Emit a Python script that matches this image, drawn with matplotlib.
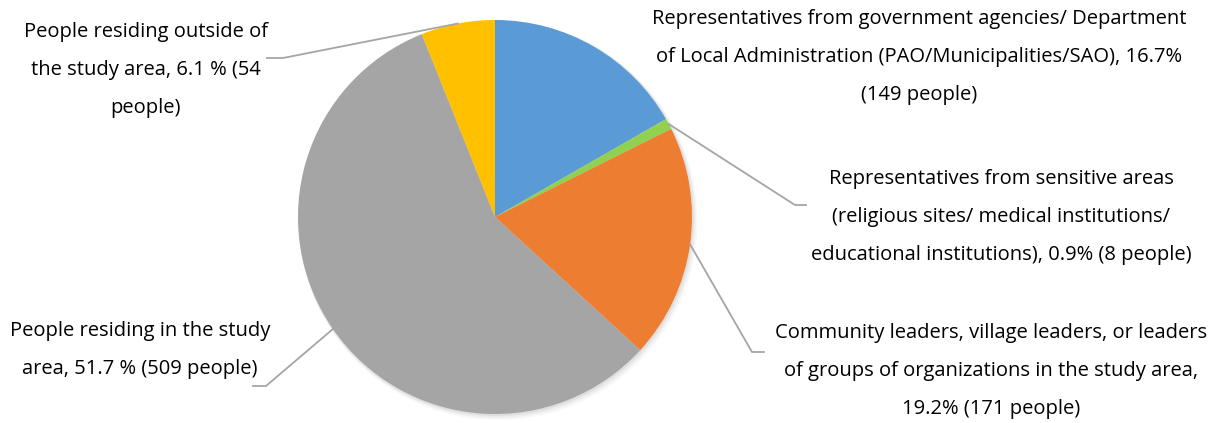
import numpy as np
import matplotlib
matplotlib.use("Agg")
import matplotlib.pyplot as plt
from matplotlib.patches import Circle

# データ (人数)
groups = ["government", "sensitive", "community", "inside", "outside"]
counts = [149, 8, 171, 509, 54]
colors = ["#5B9BD5", "#92D050", "#ED7D31", "#A5A5A5", "#FFC000"]
labels = [
    "Representatives from government agencies/ Department\n"
    "of Local Administration (PAO/Municipalities/SAO), 16.7%\n(149 people)",
    "Representatives from sensitive areas\n(religious sites/ medical institutions/\n"
    "educational institutions), 0.9% (8 people)",
    "Community leaders, village leaders, or leaders\n"
    "of groups of organizations in the study area,\n19.2% (171 people)",
    "People residing in the study\narea, 51.7 % (509 people)",
    "People residing outside of\nthe study area, 6.1 % (54\npeople)",
]

W, H = 1222, 423
fig = plt.figure(figsize=(W / 100, H / 100), dpi=100)
ax = fig.add_axes([0, 0, 1, 1])

cx, cy, r = 495, 206, 197

# うっすら影
for k, a in [(6, 0.03), (4, 0.04), (2, 0.06)]:
    ax.add_patch(Circle((cx + k * 0.5, cy - k * 0.6), r + k * 0.4,
                        color="black", alpha=a, linewidth=0, zorder=0))

wedges, _ = ax.pie(counts, colors=colors, startangle=90, counterclock=False,
                   center=(cx, cy), radius=r, frame=True,
                   wedgeprops=dict(linewidth=0, zorder=1))
ax.set_xlim(0, W)
ax.set_ylim(0, H)
ax.set_aspect("equal")
ax.axis("off")

# ラベル位置 (テキスト中心, 折れ点, 線の端)
layout = [
    dict(text=(919, 366), elbow=None, end=None),
    dict(text=(1001, 206), elbow=(795, 218), end=(806, 218)),
    dict(text=(991, 52), elbow=(752, 71), end=(764, 71)),
    dict(text=(140, 73), elbow=(266, 37), end=(253, 37)),
    dict(text=(146, 353), elbow=(283, 365), end=(267, 365)),
]

for w, lab, lay in zip(wedges, labels, layout):
    ax.text(lay["text"][0], lay["text"][1], lab, ha="center", va="center",
            fontsize=14.5, family="Open Sans", linespacing=2.18, color="black")
    if lay["elbow"] is not None:
        ang = np.deg2rad((w.theta1 + w.theta2) / 2)
        px, py = cx + r * np.cos(ang), cy + r * np.sin(ang)
        ax.plot([px, lay["elbow"][0], lay["end"][0]],
                [py, lay["elbow"][1], lay["end"][1]],
                color="#A5A5A5", linewidth=1.3, zorder=2)

fig.savefig("out.png", dpi=100, facecolor="white")
